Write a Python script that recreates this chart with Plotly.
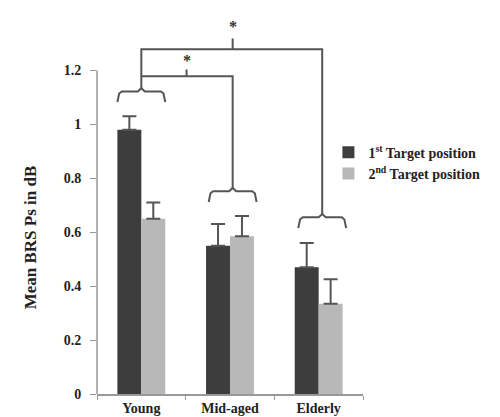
import plotly.graph_objects as go

categories = ["Young", "Mid-aged", "Elderly"]
first_vals = [0.98, 0.55, 0.47]
first_err = [0.05, 0.08, 0.09]
second_vals = [0.65, 0.585, 0.335]
second_err = [0.06, 0.075, 0.09]
series_names = ["1<sup>st</sup> Target position", "2<sup>nd</sup> Target position"]
ytick_vals = [0, 0.2, 0.4, 0.6, 0.8, 1.0, 1.2]
ytick_text = ["0", "0.2", "0.4", "0.6", "0.8", "1", "1.2"]
group_pos = [0.0, 1.03, 2.04]          # x of bracket drop lines (category index units)
brace_tops = [1.122, 0.752, 0.655]     # brace heights in data units
inner_y = 1.178
outer_y = 1.278
star_x = [0.51, 1.03]
star_y = [1.238, 1.362]

FONT = "Liberation Serif"
LINE = "#555555"

fig = go.Figure()
fig.add_trace(go.Bar(
    x=categories, y=first_vals, name=series_names[0],
    marker=dict(color="#3d3d3d", line=dict(width=0)),
    error_y=dict(type="data", array=first_err, arrayminus=[0]*3, symmetric=False,
                 color=LINE, thickness=2, width=7),
))
fig.add_trace(go.Bar(
    x=categories, y=second_vals, name=series_names[1],
    marker=dict(color="#b8b8b8", line=dict(width=0)),
    error_y=dict(type="data", array=second_err, arrayminus=[0]*3, symmetric=False,
                 color=LINE, thickness=2, width=7),
))

def brace(xc, ytop, half=0.27, drop=0.04, peak=0.012):
    xs = [xc - half, xc - half + 0.02, xc - half + 0.05, xc - 0.04, xc, xc + 0.04,
          xc + half - 0.05, xc + half - 0.02, xc + half]
    ys = [ytop - drop, ytop - 0.008, ytop, ytop, ytop + peak, ytop, ytop, ytop - 0.008, ytop - drop]
    return xs, ys

def line_trace(xs, ys):
    return go.Scatter(x=xs, y=ys, xaxis="x2", yaxis="y", mode="lines",
                      line=dict(color=LINE, width=2), showlegend=False, hoverinfo="skip")

for xc, yt in zip(group_pos, brace_tops):
    xs, ys = brace(xc, yt)
    fig.add_trace(line_trace(xs, ys))

fig.add_trace(line_trace([group_pos[0], group_pos[0], group_pos[1], group_pos[1]],
                         [brace_tops[0] + 0.012, inner_y, inner_y, brace_tops[1] + 0.012]))
fig.add_trace(line_trace([group_pos[0], group_pos[0], group_pos[2], group_pos[2]],
                         [inner_y, outer_y, outer_y, brace_tops[2] + 0.012]))
fig.add_trace(line_trace([star_x[0], star_x[0]], [inner_y, inner_y + 0.025]))
fig.add_trace(line_trace([star_x[1], star_x[1]], [outer_y, outer_y + 0.04]))

for sx, sy in zip(star_x, star_y):
    fig.add_annotation(x=sx, y=sy, xref="x2", yref="y", text="*", showarrow=False,
                       font=dict(family=FONT, size=16, color="#333", weight="bold"))

fig.add_shape(type="line", xref="paper", yref="y", x0=0, x1=0, y0=0, y1=1.2,
              line=dict(color="#999999", width=1.5))

fig.add_annotation(x=-0.29, y=0.41, xref="paper", yref="paper", text="Mean BRS Ps in dB",
                   textangle=-90, showarrow=False,
                   font=dict(family=FONT, size=17, color="#222", weight="bold"))

fig.update_layout(
    width=500, height=417,
    margin=dict(l=89, r=145, t=3, b=31),
    paper_bgcolor="white", plot_bgcolor="white",
    barmode="group", bargap=0.46, bargroupgap=0.0,
    font=dict(family=FONT, color="#222"),
    showlegend=True,
    legend=dict(x=0.87, y=0.672, xanchor="left", yanchor="top",
                font=dict(family=FONT, size=14, color="#222", weight="bold"),
                bgcolor="rgba(0,0,0,0)", itemwidth=30, tracegroupgap=0),
    xaxis=dict(showline=True, linecolor="#999999", linewidth=1.5, ticks="outside",
               tickson="boundaries", ticklen=4, tickcolor="#999999",
               tickfont=dict(family=FONT, size=14, color="#222", weight="bold"), showgrid=False,
               range=[-0.5, 2.5]),
    xaxis2=dict(overlaying="x", range=[-0.5, 2.5], visible=False, type="linear"),
    yaxis=dict(range=[0, 1.42], showline=False, ticks="outside", ticklen=6, tickcolor="#999999",
               tickvals=ytick_vals, ticktext=ytick_text, showgrid=False, zeroline=False,
               ticklabelstandoff=6,
               tickfont=dict(family=FONT, size=14, color="#222", weight="bold")),
)

fig.write_html("out.html")
